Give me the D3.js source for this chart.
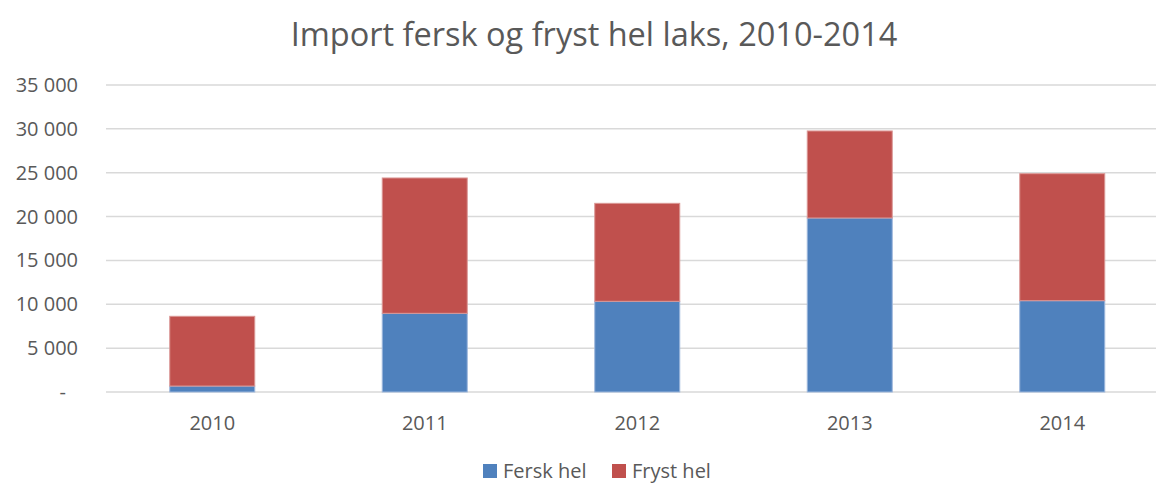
<!DOCTYPE html>
<html>
<head>
<meta charset="utf-8">
<script src="https://d3js.org/d3.v7.min.js"></script>
<style>
  body { margin: 0; background: #fff; }
  text { font-family: "Open Sans", sans-serif; fill: #595959; }
</style>
</head>
<body>
<svg id="chart" width="1156" height="486"></svg>
<script>
// data
var years = ["2010", "2011", "2012", "2013", "2014"];
var fersk = [680, 8970, 10340, 19840, 10410];
var fryst = [7950, 15430, 11170, 9920, 14480];
var seriesNames = ["Fersk hel", "Fryst hel"];
var yTicks = [0, 5000, 10000, 15000, 20000, 25000, 30000, 35000];

var colors = ["#4F81BD", "#C0504D"];
var strokes = ["#9DB7DC", "#DA9795"];

var svg = d3.select("#chart");

var x = d3.scaleBand()
    .domain(years)
    .range([106, 1168.5])
    .paddingInner(0.6)
    .paddingOuter(0.3);

var y = d3.scaleLinear()
    .domain([0, 35000])
    .range([392, 85]);

// gridlines
svg.append("g")
  .selectAll("line")
  .data(yTicks)
  .enter()
  .append("line")
    .attr("x1", 106)
    .attr("x2", 1156)
    .attr("y1", d => y(d))
    .attr("y2", d => y(d))
    .attr("stroke", "#D9D9D9")
    .attr("stroke-width", 1.5);

// y labels, space as thousands separator, zero shown as dash
var fmt = function(d) {
  if (d == 0) return "-";
  return d3.format(",")(d).replace(/,/g, " ");
};
svg.append("g")
  .selectAll("text")
  .data(yTicks)
  .enter()
  .append("text")
    .attr("x", d => d == 0 ? 66 : 78)
    .attr("y", d => y(d))
    .attr("dy", "0.35em")
    .attr("text-anchor", "end")
    .attr("font-size", "20px")
    .text(d => fmt(d));

// stacked bars
var rows = years.map(function(yr, i) {
  return { year: yr, fersk: fersk[i], fryst: fryst[i] };
});
var stack = d3.stack().keys(["fersk", "fryst"])(rows);

svg.append("g")
  .selectAll("g")
  .data(stack)
  .enter()
  .append("g")
    .attr("fill", (d, i) => colors[i])
    .attr("stroke", (d, i) => strokes[i])
    .attr("stroke-width", 1)
  .selectAll("rect")
  .data(d => d)
  .enter()
  .append("rect")
    .attr("x", d => x(d.data.year))
    .attr("width", x.bandwidth())
    .attr("y", d => y(d[1]))
    .attr("height", d => y(d[0]) - y(d[1]));

// x labels
svg.append("g")
  .selectAll("text")
  .data(years)
  .enter()
  .append("text")
    .attr("x", d => x(d) + x.bandwidth() / 2)
    .attr("y", 423)
    .attr("dy", "0.35em")
    .attr("text-anchor", "middle")
    .attr("font-size", "20px")
    .text(d => d);

// title
svg.append("text")
    .attr("x", 594)
    .attr("y", 35)
    .attr("dy", "0.35em")
    .attr("text-anchor", "middle")
    .attr("font-size", "32.5px")
    .text("Import fersk og fryst hel laks, 2010-2014");

// legend
var legendX = [483, 612];
var legend = svg.append("g")
  .selectAll("g")
  .data(seriesNames)
  .enter()
  .append("g")
    .attr("transform", (d, i) => "translate(" + legendX[i] + ",464)");

legend.append("rect")
    .attr("width", 14)
    .attr("height", 14)
    .attr("fill", (d, i) => colors[i]);

legend.append("text")
    .attr("x", 20)
    .attr("y", 7)
    .attr("dy", "0.35em")
    .attr("font-size", "20px")
    .text(d => d);
</script>
</body>
</html>
